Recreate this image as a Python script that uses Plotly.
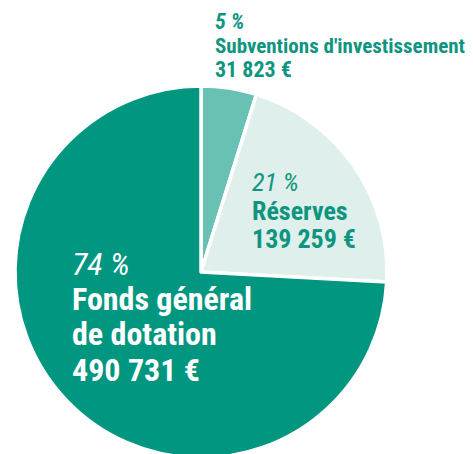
import plotly.graph_objects as go

# donnees
labels = ["Subventions d'investissement", "Réserves", "Fonds général<br>de dotation"]
valeurs = [31823, 139259, 490731]
couleurs = ["#68c1b2", "#dfefec", "#01967f"]

W, H = 473, 454
DX, DY = 8, 8  # marge par defaut du body html
police = "Liberation Sans Narrow, Roboto Condensed, Roboto, sans-serif"
teal = "#0f957f"

# centre (201, 272), rayon 186 dans la page (le trait blanc mange ~2px)
cx, cy, r = 201 - DX, 272 - DY, 186

fig = go.Figure(
    go.Pie(
        labels=labels, values=valeurs, sort=False, direction="clockwise", rotation=0,
        marker=dict(colors=couleurs, line=dict(color="white", width=3.5)),
        textinfo="none", hoverinfo="label+value+percent", showlegend=False,
        domain=dict(x=[(cx - r) / W, (cx + r) / W], y=[(H - cy - r) / H, (H - cy + r) / H]),
    )
)

total = sum(valeurs)
pcts = [f"{round(v / total * 100)} %" for v in valeurs]
montants = [f"{v:,}".replace(",", " ") + " €" for v in valeurs]


def ligne(txt, x, y, size, color, style="b"):
    if style == "bi":
        txt = f"<b><i>{txt}</i></b>"
    elif style == "i":
        txt = f"<i>{txt}</i>"
    else:
        txt = f"<b>{txt}</b>"
    fig.add_annotation(
        text=txt,
        x=(x - DX - 3) / W, y=1 - (y - DY) / H, xref="paper", yref="paper",
        xanchor="left", yanchor="middle", showarrow=False,
        font=dict(family=police, size=size, color=color),
    )


# 5 %
ligne(pcts[0], 216, 21, 22, teal, "bi")
ligne(labels[0], 216, 46, 21, teal)
ligne(montants[0], 216, 70, 22, teal)

# 21 %
ligne(pcts[1], 253, 182, 26, teal, "i")
ligne(labels[1], 253, 211, 26, teal)
ligne(montants[1], 253, 239, 26, teal)

# 74 %
ligne(pcts[2], 73, 264, 32, "white", "i")
ligne("Fonds général", 73, 299, 32, "white")
ligne("de dotation", 73, 334, 32, "white")
ligne(montants[2], 73, 370, 32, "white")

fig.update_layout(
    width=W, height=H,
    margin=dict(l=0, r=0, t=0, b=0),
    paper_bgcolor="white", plot_bgcolor="white",
)

fig.write_html("out.html")
